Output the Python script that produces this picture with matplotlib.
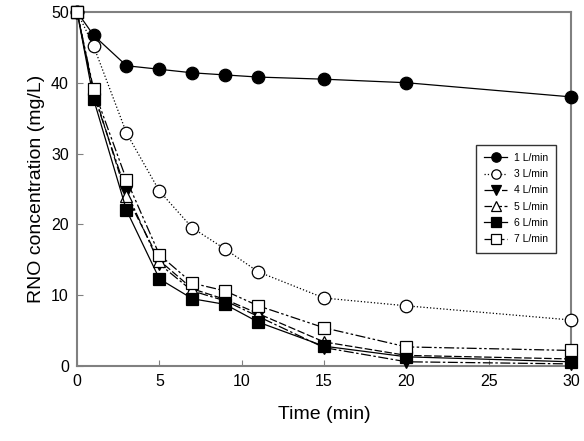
import matplotlib.pyplot as plt
import numpy as np

plt.rcParams['font.family'] = ['Liberation Sans', 'DejaVu Sans']

# Sampling times (min)
time = [0, 1, 3, 5, 7, 9, 11, 15, 20, 30]

# RNO concentration (mg/L) for each air flow rate
rno_1 = [50, 46.7, 42.4, 41.9, 41.4, 41.1, 40.8, 40.5, 40.0, 38.0]
rno_3 = [50, 45.2, 32.9, 24.7, 19.5, 16.5, 13.3, 9.6, 8.5, 6.5]
rno_4 = [50, 38.4, 24.6, 14.4, 10.6, 9.2, 7.0, 2.6, 0.6, 0.3]
rno_5 = [50, 38.8, 24.0, 14.9, 10.9, 9.4, 7.4, 3.4, 1.5, 1.0]
rno_6 = [50, 37.7, 22.0, 12.3, 9.5, 8.7, 6.2, 2.8, 1.3, 0.6]
rno_7 = [50, 39.1, 26.3, 15.7, 11.7, 10.6, 8.5, 5.4, 2.7, 2.2]

series = [
    ('1 L/min', rno_1, 'o', 'black', '-'),
    ('3 L/min', rno_3, 'o', 'white', ':'),
    ('4 L/min', rno_4, 'v', 'black', (0, (8, 2, 2, 2))),
    ('5 L/min', rno_5, '^', 'white', (0, (6, 2))),
    ('6 L/min', rno_6, 's', 'black', '-'),
    ('7 L/min', rno_7, 's', 'white', (0, (8, 2, 2, 2, 2, 2))),
]

fig = plt.figure(figsize=(5.84, 4.41), dpi=100)
ax = fig.add_axes([0.132, 0.170, 0.846, 0.803])

for label, vals, mk, fc, ls in series:
    ax.plot(time, vals, linestyle=ls, color='black', linewidth=0.9,
            marker=mk, markersize=9, markerfacecolor=fc,
            markeredgecolor='black', markeredgewidth=0.9,
            label=label, clip_on=False, zorder=3)

ax.set_xlim(0, 30)
ax.set_ylim(0, 50)
ax.set_xticks(np.arange(0, 31, 5))
ax.set_yticks(np.arange(0, 51, 10))
ax.tick_params(direction='in', labelsize=11.5, length=4, color='#808080', pad=6)
for sp in ax.spines.values():
    sp.set_color('#808080')
    sp.set_linewidth(1.5)

ax.set_xlabel('Time (min)', fontsize=14, labelpad=12)
ax.set_ylabel('RNO concentration (mg/L)', fontsize=14, labelpad=4)

leg = ax.legend(loc='upper right', bbox_to_anchor=(0.98, 0.64), fontsize=7.5,
                frameon=True, fancybox=False, edgecolor='black',
                handlelength=2.2, handletextpad=0.6, markerscale=0.75,
                labelspacing=0.6, borderpad=0.8)
leg.get_frame().set_linewidth(1.0)

plt.savefig('out.png', dpi=100)
